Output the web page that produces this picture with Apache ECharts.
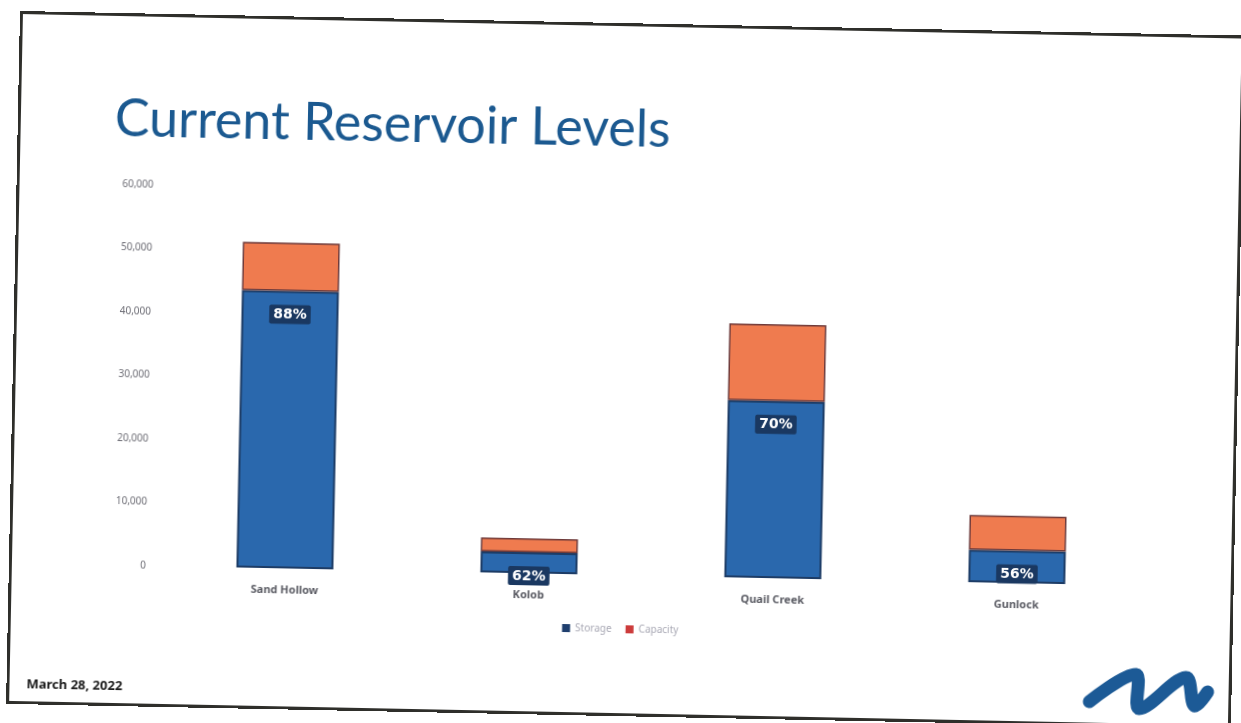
<!DOCTYPE html>
<html>
<head>
<meta charset="utf-8">
<script src="https://cdn.jsdelivr.net/npm/echarts@6/dist/echarts.min.js"></script>
<style>
  html, body { margin: 0; padding: 0; width: 1241px; height: 723px; overflow: hidden; background: #ffffff; }
  #wrap { position: absolute; left: 20px; top: 11px; width: 1225px; height: 693px; transform-origin: 0 0; transform: rotate(1.15deg); }
  #chart { position: absolute; left: 0; top: 0; width: 1225px; height: 693px; }
  #frame { position: absolute; left: 0; top: 0; width: 1225px; height: 693px; box-sizing: border-box; border: 3px solid #2f2f2b; pointer-events: none; }
</style>
</head>
<body>
<div id="wrap"><div id="chart"></div><div id="frame"></div></div>
<script>
// Data (acre-feet)
const categories = ['Sand Hollow', 'Kolob', 'Quail Creek', 'Gunlock'];
const storage   = [43700, 3300, 27900, 5100];
const remaining = [7600, 2200, 12100, 5500];   // capacity not filled (stacked on top)
const pctLabels = ['88%', '62%', '70%', '56%'];
const yTicks    = [0, 10000, 20000, 30000, 40000, 50000, 60000];
const titleText = 'Current Reservoir Levels';
const dateText  = 'March 28, 2022';

const chart = echarts.init(document.getElementById('chart'), null, { renderer: 'canvas' });

const option = {
  backgroundColor: 'transparent',
  animation: false,
  title: {
    text: titleText,
    left: 92, top: 75,
    textStyle: { fontFamily: 'Lato', fontWeight: 'normal', fontSize: 52, color: '#1b5990' }
  },
  legend: {
    data: [
      { name: 'Storage', itemStyle: { color: '#1f3f6e', borderWidth: 0 } },
      { name: 'Capacity', itemStyle: { color: '#cc3b3b', borderWidth: 0 } }
    ],
    left: 'center', top: 596,
    itemWidth: 8, itemHeight: 8, itemGap: 14,
    icon: 'rect',
    textStyle: { fontFamily: 'Noto Sans', fontSize: 10, color: '#a8a8b4' }
  },
  grid: { left: 154, right: 95, top: 171, bottom: 141, containLabel: false },
  xAxis: {
    type: 'category',
    data: categories,
    axisLine: { show: false },
    axisTick: { show: false },
    axisLabel: { margin: 16, fontFamily: 'Noto Sans', fontSize: 11, fontWeight: 'bold', color: '#5a5b63' }
  },
  yAxis: {
    type: 'value',
    min: yTicks[0], max: yTicks[yTicks.length - 1], interval: yTicks[1] - yTicks[0],
    axisLine: { show: false },
    axisTick: { show: false },
    splitLine: { show: false },
    axisLabel: {
      margin: 17, fontFamily: 'Noto Sans', fontSize: 10, color: '#6e6e76',
      formatter: v => v.toLocaleString('en-US')
    }
  },
  series: [
    {
      name: 'Storage', type: 'bar', stack: 'total', barWidth: 97,
      data: storage,
      itemStyle: { color: '#2a68ad', borderColor: '#1d3c66', borderWidth: 2 },
      label: {
        show: true, position: 'insideTop', distance: 14,
        formatter: p => pctLabels[p.dataIndex],
        fontFamily: 'DejaVu Sans', fontSize: 14, fontWeight: 'bold', color: '#ffffff',
        backgroundColor: '#1a3861', padding: [3, 4, 2, 4], borderRadius: 2
      }
    },
    {
      name: 'Capacity', type: 'bar', stack: 'total', barWidth: 97,
      data: remaining,
      itemStyle: { color: '#ef7b4f', borderColor: '#6e3a3a', borderWidth: 1.5 }
    }
  ],
  graphic: [
    {
      type: 'text', left: 20, top: 667,
      style: { text: dateText, fontFamily: 'Noto Sans', fontWeight: 'bold', fontSize: 13, fill: '#1a1a1a' }
    },
    {
      type: 'polyline',
      shape: { points: [[1083, 669], [1129, 641], [1133, 675], [1179, 643], [1188, 671], [1201, 657]], smooth: 0.35 },
      style: { stroke: '#1c5a96', lineWidth: 13, lineCap: 'round', lineJoin: 'round', fill: null }
    }
  ]
};
chart.setOption(option);
</script>
</body>
</html>
